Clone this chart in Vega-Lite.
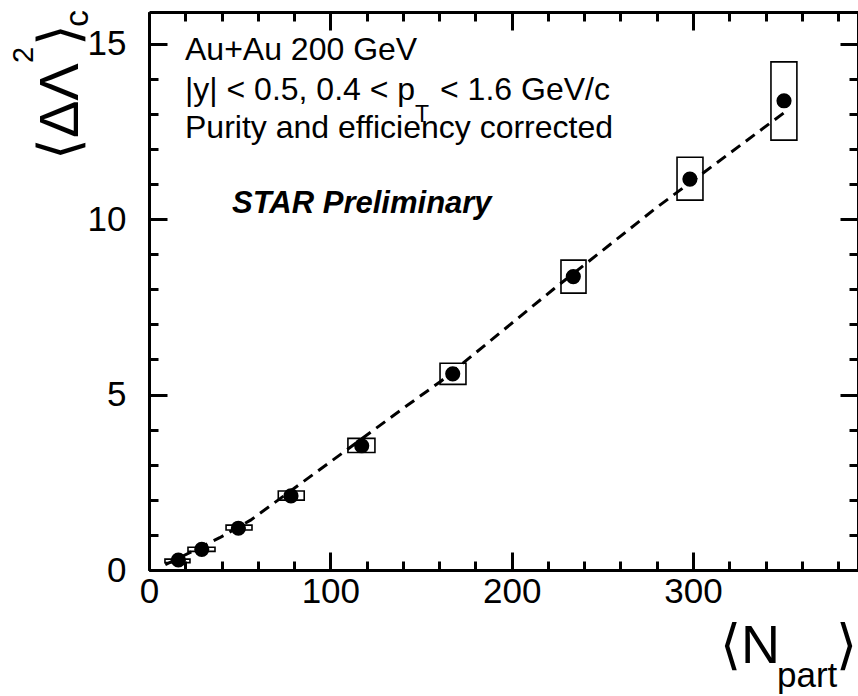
{
  "$schema": "https://vega.github.io/schema/vega-lite/v6.json",
  "width": 709,
  "height": 558,
  "autosize": {"type": "none"},
  "padding": {"left": 149, "top": 12, "right": 0, "bottom": 126},
  "background": "white",
  "config": {
    "view": {"stroke": null},
    "font": "Liberation Sans",
    "axis": {
      "grid": false,
      "domainColor": "black",
      "domainWidth": 3,
      "tickColor": "black",
      "tickWidth": 3,
      "labelFont": "Liberation Sans",
      "labelFontSize": 35,
      "labelColor": "black",
      "labelFlush": false,
      "labelOverlap": false,
      "title": null
    }
  },
  "resolve": {"axis": {"x": "independent", "y": "independent"}},
  "layer": [
    {
      "data": {"values": [
        {"xlo": 8.8, "xhi": 22.6, "ylo": 0.21, "yhi": 0.31},
        {"xlo": 21.5, "xhi": 36.4, "ylo": 0.53, "yhi": 0.65},
        {"xlo": 42.5, "xhi": 56.8, "ylo": 1.14, "yhi": 1.28},
        {"xlo": 71.3, "xhi": 85.6, "ylo": 1.99, "yhi": 2.25},
        {"xlo": 109.7, "xhi": 124.6, "ylo": 3.35, "yhi": 3.75},
        {"xlo": 160.5, "xhi": 174.8, "ylo": 5.29, "yhi": 5.89},
        {"xlo": 227.2, "xhi": 241.0, "ylo": 7.89, "yhi": 8.83},
        {"xlo": 291.2, "xhi": 305.5, "ylo": 10.54, "yhi": 11.76},
        {"xlo": 343.0, "xhi": 357.3, "ylo": 12.25, "yhi": 14.48}
      ]},
      "mark": {"type": "rect", "fill": "white", "fillOpacity": 0, "stroke": "black", "strokeWidth": 1.6},
      "encoding": {
        "x": {"field": "xlo", "type": "quantitative", "scale": {"domain": [0, 391], "nice": false, "zero": false},
              "axis": {"orient": "bottom", "values": [0, 100, 200, 300], "tickSize": -18, "labelPadding": 22, "domain": true}},
        "x2": {"field": "xhi"},
        "y": {"field": "ylo", "type": "quantitative", "scale": {"domain": [0, 15.9], "nice": false, "zero": false},
              "axis": {"orient": "left", "values": [0, 5, 10, 15], "tickSize": -18, "labelPadding": 41, "domain": true}},
        "y2": {"field": "yhi"}
      }
    },
    {
      "data": {"values": [
        {"N": 9, "v": 0.15}, {"N": 39, "v": 0.92}, {"N": 56, "v": 1.42}, {"N": 100, "v": 3.08},
        {"N": 140, "v": 4.6}, {"N": 161, "v": 5.38}, {"N": 223, "v": 8.0}, {"N": 250, "v": 9.1},
        {"N": 280, "v": 10.33}, {"N": 350, "v": 13.02}
      ]},
      "mark": {"type": "line", "color": "black", "strokeWidth": 3, "strokeDash": [11, 7]},
      "encoding": {
        "x": {"field": "N", "type": "quantitative", "scale": {"domain": [0, 391], "nice": false, "zero": false},
              "axis": {"orient": "bottom", "values": [0, 20, 40, 60, 80, 100, 120, 140, 160, 180, 200, 220, 240, 260, 280, 300, 320, 340, 360, 380], "tickSize": -9, "labels": false, "domain": false}},
        "y": {"field": "v", "type": "quantitative", "scale": {"domain": [0, 15.9], "nice": false, "zero": false},
              "axis": {"orient": "left", "values": [0, 1, 2, 3, 4, 5, 6, 7, 8, 9, 10, 11, 12, 13, 14, 15], "tickSize": -9, "labels": false, "domain": false}}
      }
    },
    {
      "data": {"values": [
        {"N": 16.2, "v": 0.285}, {"N": 29.1, "v": 0.59}, {"N": 49.3, "v": 1.19},
        {"N": 78.3, "v": 2.11}, {"N": 117.3, "v": 3.54}, {"N": 167.5, "v": 5.59},
        {"N": 234.0, "v": 8.36}, {"N": 298.3, "v": 11.14}, {"N": 350.2, "v": 13.37}
      ]},
      "mark": {"type": "point", "shape": "circle", "filled": true, "color": "black", "opacity": 1, "size": 230},
      "encoding": {
        "x": {"field": "N", "type": "quantitative", "scale": {"domain": [0, 391], "nice": false, "zero": false},
              "axis": {"orient": "top", "values": [0, 100, 200, 300], "tickSize": -18, "labels": false, "domain": true}},
        "y": {"field": "v", "type": "quantitative", "scale": {"domain": [0, 15.9], "nice": false, "zero": false},
              "axis": {"orient": "right", "values": [0, 5, 10, 15], "tickSize": -18, "labels": false, "domain": true}}
      }
    },
    {
      "data": {"values": [{"N": 45.8, "v": 10.17, "label": "STAR Preliminary"}]},
      "mark": {"type": "text", "align": "left", "baseline": "alphabetic", "font": "Liberation Sans", "fontSize": 31, "fontWeight": "bold", "fontStyle": "italic", "color": "black"},
      "encoding": {
        "x": {"field": "N", "type": "quantitative", "scale": {"domain": [0, 391], "nice": false, "zero": false},
              "axis": {"orient": "top", "values": [0, 20, 40, 60, 80, 100, 120, 140, 160, 180, 200, 220, 240, 260, 280, 300, 320, 340, 360, 380], "tickSize": -9, "labels": false, "domain": false}},
        "y": {"field": "v", "type": "quantitative", "scale": {"domain": [0, 15.9], "nice": false, "zero": false},
              "axis": {"orient": "right", "values": [0, 1, 2, 3, 4, 5, 6, 7, 8, 9, 10, 11, 12, 13, 14, 15], "tickSize": -9, "labels": false, "domain": false}},
        "text": {"field": "label"}
      }
    },
    {
      "data": {"values": [
        {"N": 19.85, "v": 14.53, "label": "Au+Au 200 GeV"},
        {"N": 19.85, "v": 13.39, "label": "|y| < 0.5, 0.4 < p"},
        {"N": 160.5, "v": 13.39, "label": "< 1.6 GeV/c"},
        {"N": 19.85, "v": 12.31, "label": "Purity and efficiency corrected"}
      ]},
      "mark": {"type": "text", "align": "left", "baseline": "alphabetic", "font": "Liberation Sans", "fontSize": 32, "color": "black"},
      "encoding": {
        "x": {"field": "N", "type": "quantitative", "axis": null},
        "y": {"field": "v", "type": "quantitative", "axis": null},
        "text": {"field": "label"}
      }
    },
    {
      "data": {"values": [{"N": 146.7, "v": 12.77, "label": "T"}]},
      "mark": {"type": "text", "align": "left", "baseline": "alphabetic", "font": "Liberation Sans", "fontSize": 23, "color": "black"},
      "encoding": {
        "x": {"field": "N", "type": "quantitative", "axis": null},
        "y": {"field": "v", "type": "quantitative", "axis": null},
        "text": {"field": "label"}
      }
    },
    {
      "data": {"values": [
        {"N": -39.2, "v": 11.68, "label": "⟨ΔΛ"},
        {"N": -39.2, "v": 14.93, "label": "⟩"}
      ]},
      "mark": {"type": "text", "align": "left", "baseline": "alphabetic", "angle": 270, "font": "Liberation Sans", "fontSize": 56, "color": "black"},
      "encoding": {
        "x": {"field": "N", "type": "quantitative", "axis": null},
        "y": {"field": "v", "type": "quantitative", "axis": null},
        "text": {"field": "label"}
      }
    },
    {
      "data": {"values": [{"N": -64.0, "v": 14.45, "label": "2"}]},
      "mark": {"type": "text", "align": "left", "baseline": "alphabetic", "angle": 270, "font": "Liberation Sans", "fontSize": 29, "color": "black"},
      "encoding": {
        "x": {"field": "N", "type": "quantitative", "axis": null},
        "y": {"field": "v", "type": "quantitative", "axis": null},
        "text": {"field": "label"}
      }
    },
    {
      "data": {"values": [{"N": -33.6, "v": 15.47, "label": "c"}]},
      "mark": {"type": "text", "align": "left", "baseline": "alphabetic", "angle": 270, "font": "Liberation Sans", "fontSize": 34, "color": "black"},
      "encoding": {
        "x": {"field": "N", "type": "quantitative", "axis": null},
        "y": {"field": "v", "type": "quantitative", "axis": null},
        "text": {"field": "label"}
      }
    },
    {
      "data": {"values": [
        {"N": 314.9, "v": -2.65, "label": "⟨N"},
        {"N": 379.0, "v": -2.65, "label": "⟩"}
      ]},
      "mark": {"type": "text", "align": "left", "baseline": "alphabetic", "font": "Liberation Sans", "fontSize": 54, "color": "black"},
      "encoding": {
        "x": {"field": "N", "type": "quantitative", "axis": null},
        "y": {"field": "v", "type": "quantitative", "axis": null},
        "text": {"field": "label"}
      }
    },
    {
      "data": {"values": [{"N": 346.3, "v": -3.33, "label": "part"}]},
      "mark": {"type": "text", "align": "left", "baseline": "alphabetic", "font": "Liberation Sans", "fontSize": 35, "color": "black"},
      "encoding": {
        "x": {"field": "N", "type": "quantitative", "axis": null},
        "y": {"field": "v", "type": "quantitative", "axis": null},
        "text": {"field": "label"}
      }
    }
  ]
}
